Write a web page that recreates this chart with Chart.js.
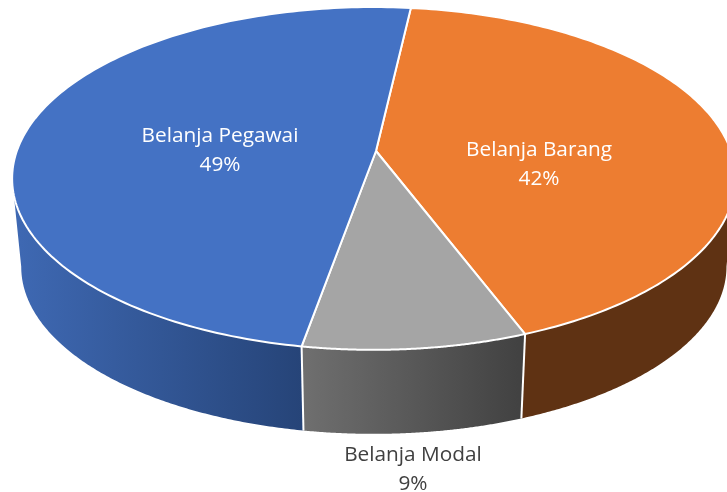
<!DOCTYPE html>
<html><head><meta charset="utf-8">
<style>html,body{margin:0;padding:0;background:#fff;overflow:hidden}canvas{display:block}</style>
<script src="https://cdn.jsdelivr.net/npm/chart.js@4"></script>
</head><body><canvas id="c" width="727" height="492"></canvas>
<script>
const categories = ['Belanja Pegawai', 'Belanja Barang', 'Belanja Modal'];
const shares = [49.0, 42.4, 8.6];
// drawn clockwise from the top: Barang, Modal, Pegawai
const order = [1, 2, 0];
const topColors = ['#4472C4', '#ED7D31', '#A5A5A5'];
const wallStops = [['#3E68B2', '#264478'], ['#5F3213', '#5F3213'], ['#6F6F6F', '#414141']];
const wallSpan = [[20, 302], [523, 727], [303, 523]];
const textColors = ['#FFFFFF', '#FFFFFF', '#404040'];
const labelSpots = [[220, 136], [539, 150], [413, 455]];

const ROT = 6.5, K = 0.16, M = 0.006, RX = 357, RY = 167, CX = 376;
function project(a, cy, s) {
  const u = Math.cos(a), v = Math.sin(a);
  const d = 1 - K * v + M * u;
  return [CX + s * RX * u / d, cy + s * RY * v / d];
}
const topP = a => project(a, 151, 1);
const lowP = a => project(a, 240, 0.975);

const tilted = {
  id: 'tilted',
  beforeDatasetDraw(chart) {
    const ctx = chart.ctx, arcs = chart.getDatasetMeta(0).data;
    const slices = arcs.map((el, i) => ({ i, start: el.startAngle, end: el.endAngle }));
    const N = 160, lo = 0.16, hi = Math.PI - 0.16;
    ctx.save();
    ctx.lineJoin = 'round';
    // side walls: only the part of each slice that faces the viewer
    slices.forEach(s => {
      const k = order[s.i];
      const a0 = Math.max(s.start, lo), a1 = Math.min(s.end, hi);
      if (a1 <= a0) return;
      const sp = wallSpan[k];
      const g = ctx.createLinearGradient(sp[0], 0, sp[1], 0);
      g.addColorStop(0, wallStops[k][0]); g.addColorStop(1, wallStops[k][1]);
      ctx.beginPath();
      for (let j = 0; j <= N; j++) { const p = topP(a0 + (a1 - a0) * j / N); j ? ctx.lineTo(p[0], p[1]) : ctx.moveTo(p[0], p[1]); }
      for (let j = N; j >= 0; j--) { const p = lowP(a0 + (a1 - a0) * j / N); ctx.lineTo(p[0], p[1]); }
      ctx.closePath();
      ctx.fillStyle = g; ctx.fill();
    });
    // vertical dividers on the front
    ctx.strokeStyle = '#fff'; ctx.lineWidth = 2;
    slices.forEach(s => {
      if (Math.sin(s.end) > 0) {
        const p = topP(s.end), q = lowP(s.end);
        ctx.beginPath(); ctx.moveTo(p[0], p[1]); ctx.lineTo(q[0], q[1]); ctx.stroke();
      }
    });
    // top faces
    slices.forEach(s => {
      const k = order[s.i];
      ctx.beginPath(); ctx.moveTo(CX, 151);
      for (let j = 0; j <= N; j++) { const p = topP(s.start + (s.end - s.start) * j / N); ctx.lineTo(p[0], p[1]); }
      ctx.closePath();
      ctx.fillStyle = topColors[k]; ctx.fill();
      ctx.strokeStyle = '#fff'; ctx.lineWidth = 2; ctx.stroke();
    });
    // labels
    ctx.font = '20.8px "Open Sans"';
    ctx.textAlign = 'center'; ctx.textBaseline = 'middle';
    categories.forEach((name, k) => {
      ctx.fillStyle = textColors[k];
      ctx.fillText(name, labelSpots[k][0], labelSpots[k][1]);
      ctx.fillText(Math.round(shares[k]) + '%', labelSpots[k][0], labelSpots[k][1] + 29);
    });
    ctx.restore();
    return false;
  }
};

new Chart(document.getElementById('c'), {
  type: 'pie',
  data: {
    labels: order.map(k => categories[k]),
    datasets: [{ data: order.map(k => shares[k]), backgroundColor: order.map(k => topColors[k]) }]
  },
  options: {
    responsive: false, animation: false, rotation: ROT,
    events: [],
    plugins: { legend: { display: false }, tooltip: { enabled: false } }
  },
  plugins: [tilted]
});
</script></body></html>
